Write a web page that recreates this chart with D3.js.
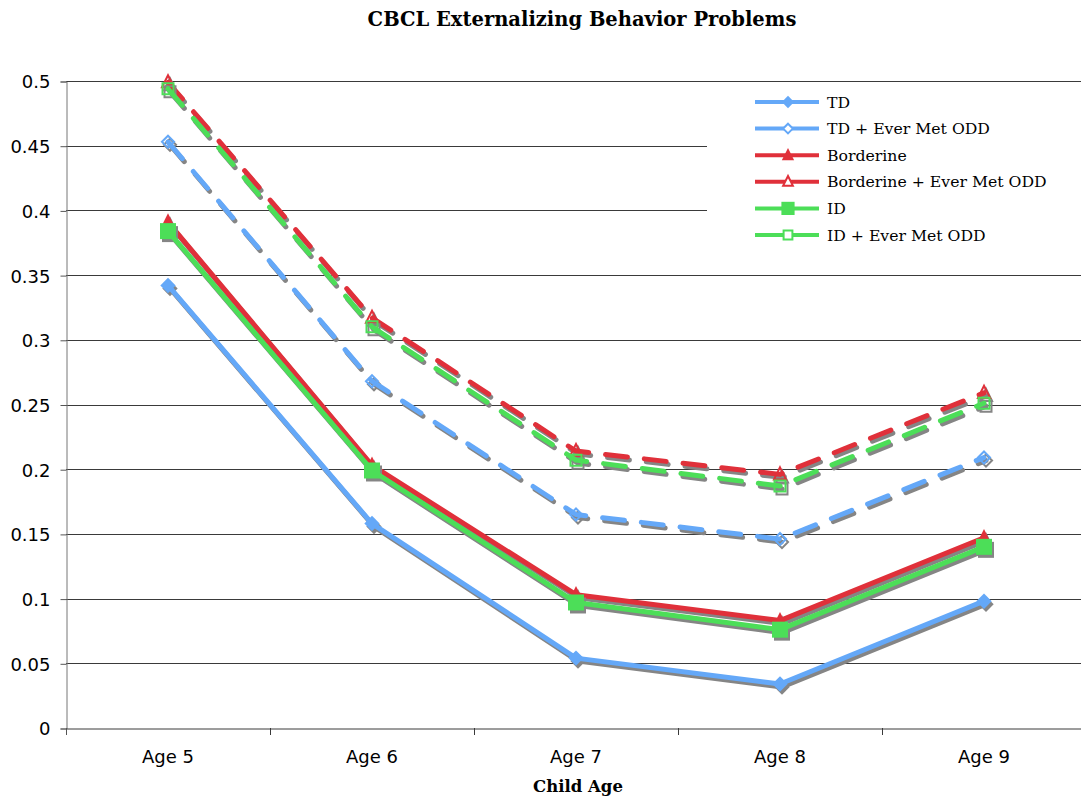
<!DOCTYPE html>
<html>
<head>
<meta charset="utf-8">
<script src="https://cdn.jsdelivr.net/npm/d3@7"></script>
<style>
 body{margin:0;background:#fff;}
 text{fill:#000;}
</style>
</head>
<body>
<script>
// categories + series values
var ages = ["Age 5","Age 6","Age 7","Age 8","Age 9"];
var yTicks = [0,0.05,0.1,0.15,0.2,0.25,0.3,0.35,0.4,0.45,0.5];
var seriesNames = ["TD","TD + Ever Met ODD","Borderine","Borderine + Ever Met ODD","ID","ID + Ever Met ODD"];
var td        = [0.342,0.158,0.054,0.034,0.098];
var tdOdd     = [0.453,0.268,0.165,0.146,0.209];
var bord      = [0.391,0.203,0.103,0.083,0.147];
var bordOdd   = [0.499,0.317,0.214,0.196,0.259];
var idd       = [0.384,0.199,0.097,0.076,0.140];
var iddOdd    = [0.494,0.310,0.207,0.187,0.251];

var blue="#64a8f8", red="#e0303a", green="#4cde58";
var series = [
 {name:seriesNames[0], vals:td,      color:blue,  shape:"diamond",  open:false, dash:false},
 {name:seriesNames[1], vals:tdOdd,   color:blue,  shape:"diamond",  open:true,  dash:true},
 {name:seriesNames[2], vals:bord,    color:red,   shape:"triangle", open:false, dash:false},
 {name:seriesNames[3], vals:bordOdd, color:red,   shape:"triangle", open:true,  dash:true},
 {name:seriesNames[4], vals:idd,     color:green, shape:"square",   open:false, dash:false},
 {name:seriesNames[5], vals:iddOdd,  color:green, shape:"square",   open:true,  dash:true}
];

var W=1081,H=800;
var svg=d3.select("body").append("svg").attr("width",W).attr("height",H);

var x=d3.scaleBand().domain(ages).range([66,1086]);
var y=d3.scaleLinear().domain([0,0.5]).range([728,81]);
var cx=function(i){return x(ages[i])+x.bandwidth()/2;};

// gridlines
svg.append("g").selectAll("line").data(yTicks.slice(1)).enter().append("line")
  .attr("x1",66).attr("x2",W)
  .attr("y1",function(d){return Math.round(y(d))+0.5;})
  .attr("y2",function(d){return Math.round(y(d))+0.5;})
  .attr("stroke","#3a3a3a").attr("stroke-width",1);

// y axis
var yAxis=d3.axisLeft(y).tickValues(yTicks).tickSize(6).tickFormat(function(d){return d3.format("")(+d.toFixed(2));});
var gy=svg.append("g").attr("transform","translate(66.5,0.5)").call(yAxis);
gy.select(".domain").attr("stroke","#777");
gy.selectAll(".tick line").attr("stroke","#555");
gy.selectAll("text").attr("font-family","DejaVu Sans, Verdana, sans-serif").attr("font-size",18).attr("dx",-7).attr("dy","0.36em");

// x axis
var xAxis=d3.axisBottom(x).tickSize(0);
var gx=svg.append("g").attr("transform","translate(0,728.5)").call(xAxis);
gx.select(".domain").attr("stroke","#3a3a3a");
gx.selectAll("text").attr("font-family","DejaVu Sans, Verdana, sans-serif").attr("font-size",18).attr("dy","1.75em");
// tick marks between categories
svg.append("g").selectAll("line").data(ages.slice(1)).enter().append("line")
  .attr("x1",function(d){return Math.round(x(d))+0.5;}).attr("x2",function(d){return Math.round(x(d))+0.5;})
  .attr("y1",728).attr("y2",735).attr("stroke","#3a3a3a");
svg.append("line").attr("x1",66.5).attr("x2",66.5).attr("y1",728).attr("y2",735).attr("stroke","#555");

// titles
svg.append("text").attr("x",582).attr("y",26).attr("text-anchor","middle")
  .attr("font-family","DejaVu Serif, Georgia, serif").attr("font-weight","bold").attr("font-size",19.5)
  .text("CBCL Externalizing Behavior Problems");
svg.append("text").attr("x",578).attr("y",792).attr("text-anchor","middle")
  .attr("font-family","DejaVu Serif, Georgia, serif").attr("font-weight","bold").attr("font-size",16.5)
  .text("Child Age");

// marker path
function markerPath(shape,open,k){
  k=k||1;
  var s = (open?11:14)*k;
  if(shape==="diamond"){var h=s*0.55;return "M0,"+(-h)+"L"+h+",0L0,"+h+"L"+(-h)+",0Z";}
  if(shape==="triangle"){var h2=s*0.55;return "M0,"+(-h2-1)+"L"+(h2)+","+(h2-1)+"L"+(-h2)+","+(h2-1)+"Z";}
  var q=open?s/2:s/2+1;return "M"+(-q)+","+(-q)+"H"+q+"V"+q+"H"+(-q)+"Z";
}

var line=d3.line().x(function(d,i){return cx(i);}).y(function(d){return y(d);});
var plot=svg.append("g");
series.forEach(function(s){
  // shadow
  var sh=plot.append("g").attr("transform","translate(2,3)");
  sh.append("path").attr("d",line(s.vals)).attr("fill","none").attr("stroke","#858585")
    .attr("stroke-width",5).attr("stroke-linecap","round").attr("stroke-linejoin","round")
    .attr("stroke-dasharray",s.dash?"22,17":null);
  sh.selectAll("path.m").data(s.vals).enter().append("path").attr("class","m")
    .attr("transform",function(d,i){return "translate("+cx(i)+","+y(d)+")";})
    .attr("d",markerPath(s.shape,s.open))
    .attr("fill",s.open?"none":"#858585").attr("stroke",s.open?"#858585":"none").attr("stroke-width",2);
  var g=plot.append("g");
  g.append("path").attr("d",line(s.vals)).attr("fill","none").attr("stroke",s.color)
    .attr("stroke-width",5).attr("stroke-linecap","round").attr("stroke-linejoin","round")
    .attr("stroke-dasharray",s.dash?"22,17":null);
  g.selectAll("path.m").data(s.vals).enter().append("path").attr("class","m")
    .attr("transform",function(d,i){return "translate("+cx(i)+","+y(d)+")";})
    .attr("d",markerPath(s.shape,s.open))
    .attr("fill",s.open?"none":s.color).attr("stroke",s.open?s.color:"none").attr("stroke-width",2);
});

// legend
var lg=svg.append("g");
lg.append("rect").attr("x",707).attr("y",84).attr("width",W-707).attr("height",186).attr("fill","#fff");
var items=lg.selectAll("g.it").data(series).enter().append("g").attr("class","it")
  .attr("transform",function(d,i){return "translate(0,"+(102+i*26.6)+")";});
items.append("line").attr("x1",755).attr("x2",819).attr("y1",0).attr("y2",0)
  .attr("stroke",function(d){return d.color;}).attr("stroke-width",4);
items.append("path").attr("transform","translate(788,0)")
  .attr("d",function(d){return markerPath(d.shape,d.open,0.8);})
  .attr("fill",function(d){return d.open?"#fff":d.color;})
  .attr("stroke",function(d){return d.open?d.color:"none";}).attr("stroke-width",2);
items.append("text").attr("x",827).attr("y",0).attr("dy","0.35em")
  .attr("font-family","DejaVu Serif, Georgia, serif").attr("font-size",15.7)
  .text(function(d){return d.name;});
</script>
</body>
</html>
